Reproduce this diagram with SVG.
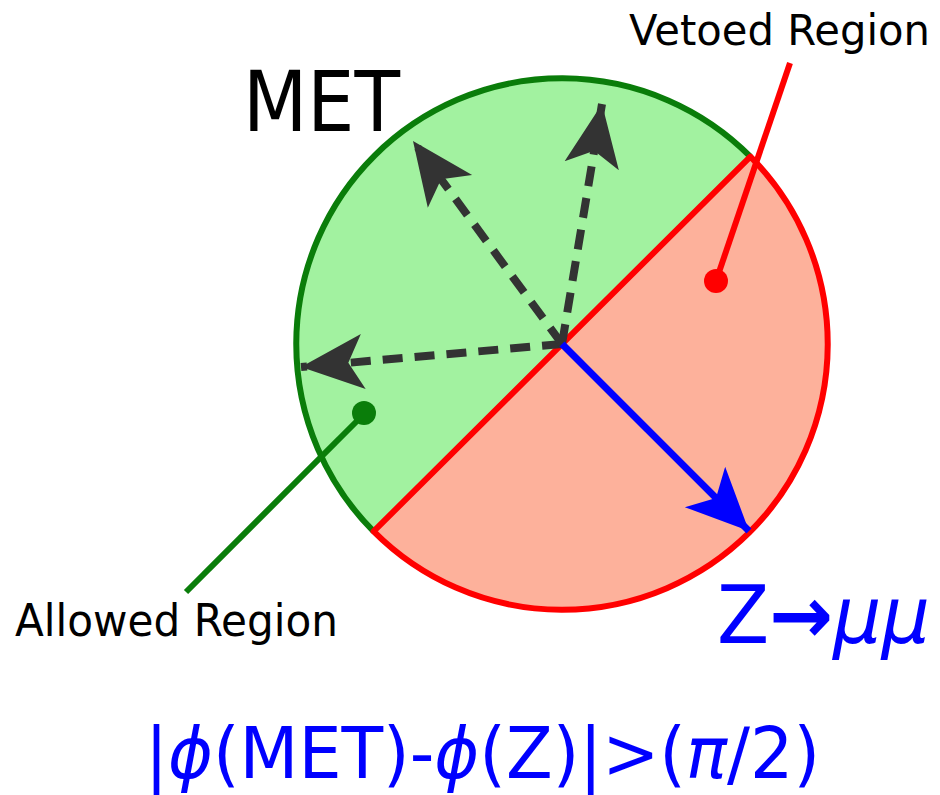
<svg xmlns="http://www.w3.org/2000/svg" width="940" height="795" viewBox="0 0 940 795">
<style>
.t{font-family:"DejaVu Sans","Liberation Sans",sans-serif}
.blk{fill:#000}
.blu{fill:#0000ff}
.dash{stroke:#333;stroke-width:8;stroke-dasharray:20 12;fill:none}
</style>
<defs>
<marker id="ah" markerUnits="userSpaceOnUse" markerWidth="70" markerHeight="70" refX="50" refY="22" orient="auto" viewBox="0 0 56 44">
<path d="M50,22 L0,0 L12,22 L0,44 Z" fill="#333"/>
</marker>
<marker id="bh" markerUnits="userSpaceOnUse" markerWidth="70" markerHeight="70" refX="48" refY="22" orient="auto" viewBox="0 0 54 44">
<path d="M48,22 L0,0 L12,22 L0,44 Z" fill="#0000ff"/>
</marker>
</defs>
<g id="allowed">
<path d="M373.6,531.4 A265,265 0 0 1 750.4,156.6 Z" fill="#a2f2a0" stroke="none"/>
<path d="M373.6,531.4 A265,265 0 0 1 750.4,156.6" fill="none" stroke="#0a7d0a" stroke-width="6"/>
</g>
<g id="vetoed">
<path d="M750.4,156.6 A265,265 0 0 1 373.6,531.4 Z" fill="#fdb19b" stroke="none"/>
<path d="M750.4,156.6 A265,265 0 0 1 373.6,531.4 Z" fill="none" stroke="#ff0000" stroke-width="6" stroke-linejoin="round"/>
</g>
<g id="connectors">
<line class="dash" x1="562" y1="344" x2="301" y2="367" marker-end="url(#ah)"/>
<line class="dash" x1="562" y1="344" x2="413" y2="141" marker-end="url(#ah)"/>
<line class="dash" x1="562" y1="344" x2="602" y2="104" marker-end="url(#ah)"/>
<line x1="562" y1="344" x2="749" y2="531" stroke="#0000ff" stroke-width="7" marker-end="url(#bh)"/>
<line x1="364" y1="414" x2="186" y2="592" stroke="#0a7d0a" stroke-width="6"/>
<circle cx="364" cy="413" r="12" fill="#0a7d0a"/>
<line x1="716" y1="281" x2="790" y2="63" stroke="#ff0000" stroke-width="6"/>
<circle cx="716" cy="281" r="12" fill="#ff0000"/>
</g>
<g id="labels">
<text class="t blk" x="243" y="131" font-size="84" textLength="157" lengthAdjust="spacingAndGlyphs">MET</text>
<text class="t blk" x="629" y="45" font-size="43" textLength="301" lengthAdjust="spacingAndGlyphs">Vetoed Region</text>
<text class="t blk" x="15" y="636" font-size="44" textLength="323" lengthAdjust="spacingAndGlyphs">Allowed Region</text>
<text class="t blu" x="717" y="643" font-size="80" textLength="213" lengthAdjust="spacingAndGlyphs">Z<tspan font-weight="bold">→</tspan><tspan font-style="italic">μμ</tspan></text>
<text class="t blu" x="145" y="778" font-size="72" textLength="675" lengthAdjust="spacingAndGlyphs">|<tspan font-style="italic">ϕ</tspan>(MET)-<tspan font-style="italic">ϕ</tspan>(Z)|&gt;(<tspan font-style="italic">π</tspan>/2)</text>
</g>
</svg>
